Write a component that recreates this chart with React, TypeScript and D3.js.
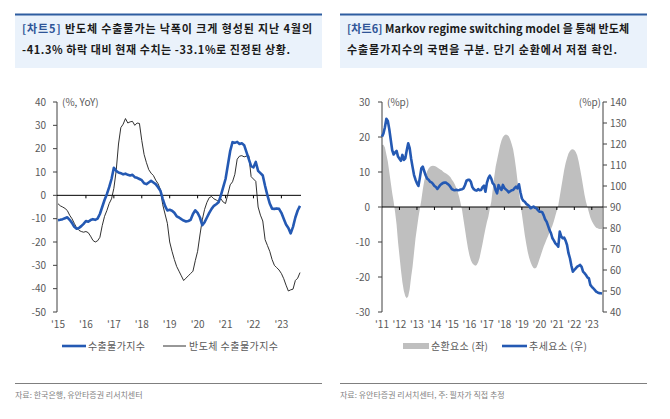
import React from "react";
import * as d3 from "d3";

// ---------- Left chart data (monthly, Jan 2015 .. Sep 2023) ----------
const leftYearLabels = ["'15", "'16", "'17", "'18", "'19", "'20", "'21", "'22", "'23"];
const leftYTicks = [40, 30, 20, 10, 0, -10, -20, -30, -40, -50];
const exportPriceYoY = [
  -10.7, -10.5, -10.2, -9.8, -9.4, -10.5, -11.8, -13.5, -14.3, -14.0, -13.2, -12.2,
  -11.0, -11.3, -10.6, -10.2, -10.5, -10.0, -8.0, -5.0, -2.0, 0.5, 3.5, 7.0,
  11.8, 10.5, 9.8, 9.5, 9.0, 9.3, 8.8, 8.5, 8.8, 7.8, 7.5, 7.0,
  6.5, 5.2, 4.8, 5.5, 6.2, 5.5, 4.8, 3.5, 2.0, -1.5, -4.5, -6.5,
  -6.2, -6.6, -7.5, -9.0, -9.5, -10.2, -10.8, -11.2, -11.0, -10.5, -8.0, -6.4,
  -7.5, -9.5, -12.8, -11.5, -9.5, -7.5, -5.8, -4.5, -3.8, -3.0, 0.0, 3.5,
  7.0, 13.0, 19.0, 22.8, 22.5, 22.9, 22.0, 22.3, 21.5, 18.5, 15.5, 12.5,
  12.0, 14.3, 10.5, 9.5, 8.5, 4.0, 0.0, -3.5, -5.7, -5.8, -5.6, -5.8,
  -7.5, -10.0, -12.5, -14.0, -16.3, -13.5, -9.5, -6.5, -4.5,
];
const semiExportPriceYoY = [
  -3.6, -4.5, -5.0, -5.6, -6.5, -8.5, -10.0, -12.0, -14.0, -15.0, -15.5, -15.8,
  -15.5, -16.0, -17.5, -19.3, -20.0, -19.5, -18.0, -13.0, -9.0, -6.5, -3.5, -1.5,
  3.0, 10.5, 22.0, 29.0, 30.5, 32.9, 31.0, 31.5, 31.7, 30.0, 31.0, 30.8,
  23.5, 17.5, 14.0, 11.0, 9.5, 8.5, 6.5, 5.0, 2.5, -4.0, -8.0, -12.0,
  -20.0, -24.0, -27.5, -30.5, -32.5, -34.5, -36.5, -35.5, -34.5, -33.5, -32.5, -28.0,
  -24.0, -17.0, -10.5, -6.0, -3.0, -1.0, -0.5, -1.5, -2.0, -2.6, -1.5, -2.9,
  -3.5, 0.5, 4.5, 5.8, 9.0, 15.5, 16.8, 17.0, 16.5, 16.8, 17.0, 8.0,
  7.0, 6.0, -5.0, -8.5, -11.0, -19.0, -21.5, -24.0, -27.5, -30.0, -31.0, -32.0,
  -33.5, -35.7, -38.5, -41.0, -40.5, -40.2, -36.5, -35.5, -33.1,
];

// ---------- Right chart data (monthly, Jan 2011 .. Aug 2023) ----------
const rightYearLabels = ["'11", "'12", "'13", "'14", "'15", "'16", "'17", "'18", "'19", "'20", "'21", "'22", "'23"];
const rightLeftTicks = [30, 20, 10, 0, -10, -20, -30];
const rightRightTicks = [140, 130, 120, 110, 100, 90, 80, 70, 60, 50, 40];
const cyclical = [
  17.7, 17.8, 17.0, 15.0, 13.0, 10.0, 7.0, 4.0, 1.5, -1.5, -5.0, -10.0,
  -14.0, -18.0, -21.5, -24.0, -25.5, -26.1, -25.5, -23.5, -20.0, -17.0, -13.0, -9.0,
  -6.0, -3.0, -0.5, 2.0, 5.0, 7.5, 9.0, 10.2, 11.0, 11.5, 11.7, 11.8,
  11.7, 11.6, 11.3, 11.0, 10.7, 10.5, 10.1, 9.8, 9.6, 9.3, 8.9, 8.5,
  7.8, 7.2, 6.4, 5.4, 4.3, 2.8, 1.0, -1.0, -3.8, -6.5, -9.3, -11.8,
  -13.8, -15.2, -16.1, -16.5, -16.8, -16.6, -15.8, -14.5, -12.5, -10.5, -8.3, -6.2,
  -4.3, -2.8, -0.5, 1.5, 5.0, 8.5, 11.5, 13.5, 15.5, 17.5, 19.0, 20.0,
  20.5, 20.7, 20.6, 20.2, 19.3, 18.0, 16.5, 14.0, 11.0, 7.5, 4.0, 1.0,
  -2.0, -5.0, -8.0, -10.5, -12.8, -14.5, -15.8, -16.8, -17.4, -17.6, -17.3, -16.3,
  -15.0, -13.8, -12.5, -11.3, -10.3, -9.2, -8.3, -7.3, -6.3, -5.3, -4.0, -2.5,
  -1.0, 0.5, 3.0, 5.5, 8.0, 10.5, 12.5, 14.0, 15.3, 16.0, 16.4, 16.5,
  16.3, 15.7, 14.7, 13.0, 10.8, 8.5, 6.0, 3.5, 1.5, 0.0, -1.5, -3.0,
  -4.0, -4.8, -5.4, -5.9, -6.1, -6.3, -6.3, -6.3,
];
const trend = [
  123.5, 125.0, 128.0, 132.0, 131.0, 127.0, 122.0, 117.0, 115.0, 116.0, 116.7, 114.0,
  113.0, 112.0, 114.8, 112.4, 113.2, 117.0, 120.3, 118.0, 113.0, 109.0, 105.2, 103.0,
  101.3, 100.0, 104.0, 108.4, 109.2, 107.0, 105.0, 103.5, 103.0, 102.0, 101.7, 101.0,
  100.0, 99.5, 98.6, 99.5, 100.5, 101.0, 101.5, 101.6, 101.6, 101.0, 100.5, 99.5,
  98.5, 98.1, 98.0, 98.2, 98.0, 98.1, 98.3, 98.5, 98.9, 100.5, 102.5, 102.9,
  102.9, 102.0, 99.5, 98.5, 98.0, 97.8, 98.5, 98.0, 98.1, 99.5, 100.2, 97.3,
  101.5, 103.7, 104.9, 103.5, 101.3, 100.5, 98.0, 96.5, 100.5, 99.0, 98.1, 100.5,
  99.0, 98.4, 97.8, 97.0, 97.5, 98.0, 98.1, 99.0, 99.7, 98.9, 100.8, 97.0,
  94.1, 93.0, 92.5, 91.5, 91.0, 90.5, 89.4, 89.8, 90.2, 89.6, 89.4, 88.5,
  87.8, 87.7, 87.5, 86.0, 84.0, 83.0, 81.0, 79.0, 77.5, 75.1, 74.0, 72.7,
  72.0, 71.1, 78.3, 76.0, 75.1, 75.4, 74.0, 71.9, 68.0, 65.6, 62.0, 59.2,
  60.0, 60.8, 61.6, 62.0, 62.4, 61.5, 59.2, 58.5, 57.6, 56.5, 56.0, 52.9,
  52.0, 51.3, 50.5, 49.7, 49.3, 49.0, 48.9, 48.8,
];

const BLUE = "#2459b3";
const TITLE_BLUE = "#2f5597";
const GREY_TXT = "#595959";
const AXIS = "#404040";
const FONT = "'Noto Sans CJK KR', 'Noto Sans', sans-serif";

function TitleBox({ x, w, label, line1, line2, l1w, l2w }: any) {
  return (
    <g>
      <rect x={x} y={14} width={w} height={54} fill="#eaf2fb" />
      <line x1={x} x2={x + w} y1={14.5} y2={14.5} stroke="#2e5da0" strokeWidth={2.2} />
      <text x={x + 7} y={33} fontSize={11} fontWeight="bold" fontFamily={FONT} fill="#1a1a1a" textLength={l1w} lengthAdjust="spacing">
        <tspan fill={TITLE_BLUE}>{label}</tspan>
        <tspan> {line1}</tspan>
      </text>
      <text x={x + 7} y={54} fontSize={11} fontWeight="bold" fontFamily={FONT} fill="#1a1a1a" textLength={l2w} lengthAdjust="spacing">
        {line2}
      </text>
    </g>
  );
}

function LeftChart() {
  const x = d3.scaleLinear().domain([0, exportPriceYoY.length - 1]).range([58, 300]);
  const y = d3.scaleLinear().domain([-50, 40]).range([312, 102]);
  const line = d3.line<number>().x((_, i) => x(i)).y((d) => y(d));
  return (
    <g>
      {/* y axis */}
      <line x1={57} x2={57} y1={102} y2={312} stroke={AXIS} strokeWidth={1} />
      {leftYTicks.map((t) => (
        <g key={t}>
          <line x1={53} x2={57} y1={y(t)} y2={y(t)} stroke={AXIS} />
          <text x={46} y={y(t) + 3.5} textAnchor="end" fontSize={10} fontFamily={FONT} fill={GREY_TXT}>{t}</text>
        </g>
      ))}
      <text x={62} y={106} fontSize={10} fontFamily={FONT} fill={GREY_TXT}>(%, YoY)</text>
      {/* zero line */}
      <line x1={57} x2={301} y1={y(0)} y2={y(0)} stroke="#000" strokeWidth={1} />
      {leftYearLabels.map((l, i) => (
        <g key={l}>
          {i > 0 && <line x1={x(i * 12)} x2={x(i * 12)} y1={y(0)} y2={y(0) + 3} stroke="#000" />}
          <text x={x(i * 12)} y={328} textAnchor="middle" fontSize={10} fontFamily={FONT} fill={GREY_TXT}>{l}</text>
        </g>
      ))}
      <path d={line(semiExportPriceYoY) || ""} fill="none" stroke="#1a1a1a" strokeWidth={0.9} />
      <path d={line(exportPriceYoY) || ""} fill="none" stroke={BLUE} strokeWidth={2.6} strokeLinejoin="round" />
      {/* legend */}
      <line x1={62} x2={86} y1={346} y2={346} stroke={BLUE} strokeWidth={2.6} />
      <text x={88} y={349.5} fontSize={10} fontFamily={FONT} fill={GREY_TXT} textLength={57} lengthAdjust="spacing">수출물가지수</text>
      <line x1={163} x2={186} y1={346} y2={346} stroke="#1a1a1a" strokeWidth={0.9} />
      <text x={189} y={349.5} fontSize={10} fontFamily={FONT} fill={GREY_TXT} textLength={89} lengthAdjust="spacing">반도체 수출물가지수</text>
      {/* footer */}
      <line x1={15} x2={322} y1={383.5} y2={383.5} stroke="#7f7f7f" strokeWidth={1} />
      <text x={15} y={398} fontSize={8} fontFamily={FONT} fill="#7f7f7f">자료: 한국은행, 유안타증권 리서치센터</text>
    </g>
  );
}

function RightChart() {
  const x = d3.scaleLinear().domain([0, cyclical.length - 1]).range([382, 602]);
  const yL = d3.scaleLinear().domain([-30, 30]).range([312, 102]);
  const yR = d3.scaleLinear().domain([40, 140]).range([312, 102]);
  const area = d3.area<number>().x((_, i) => x(i)).y0(yL(0)).y1((d) => yL(d));
  const line = d3.line<number>().x((_, i) => x(i)).y((d) => yR(d));
  return (
    <g>
      <path d={area(cyclical) || ""} fill="#bfbfbf" />
      {/* left axis */}
      <line x1={382} x2={382} y1={102} y2={312} stroke={AXIS} />
      {rightLeftTicks.map((t) => (
        <g key={t}>
          <line x1={378} x2={382} y1={yL(t)} y2={yL(t)} stroke={AXIS} />
          <text x={370} y={yL(t) + 3.5} textAnchor="end" fontSize={10} fontFamily={FONT} fill={GREY_TXT}>{t}</text>
        </g>
      ))}
      <text x={387} y={106} fontSize={10} fontFamily={FONT} fill={GREY_TXT}>(%p)</text>
      {/* right axis */}
      <line x1={603} x2={603} y1={102} y2={312} stroke={AXIS} />
      {rightRightTicks.map((t) => (
        <g key={t}>
          <line x1={603} x2={607} y1={yR(t)} y2={yR(t)} stroke={AXIS} />
          <text x={610} y={yR(t) + 3.5} textAnchor="start" fontSize={10} fontFamily={FONT} fill={GREY_TXT}>{t}</text>
        </g>
      ))}
      <text x={601} y={106} textAnchor="end" fontSize={10} fontFamily={FONT} fill={GREY_TXT}>(%p)</text>
      {/* zero line */}
      <line x1={382} x2={603} y1={yL(0)} y2={yL(0)} stroke="#000" strokeWidth={1} />
      {rightYearLabels.map((l, i) => (
        <g key={l}>
          {i > 0 && <line x1={x(i * 12)} x2={x(i * 12)} y1={yL(0)} y2={yL(0) + 3} stroke="#000" />}
          <text x={x(i * 12)} y={328} textAnchor="middle" fontSize={10} fontFamily={FONT} fill={GREY_TXT}>{l}</text>
        </g>
      ))}
      <path d={line(trend) || ""} fill="none" stroke={BLUE} strokeWidth={2.6} strokeLinejoin="round" />
      {/* legend */}
      <rect x={403} y={343} width={26} height={6} fill="#bfbfbf" />
      <text x={431} y={349.5} fontSize={10} fontFamily={FONT} fill={GREY_TXT} textLength={57} lengthAdjust="spacing">순환요소 (좌)</text>
      <line x1={502} x2={527} y1={346} y2={346} stroke={BLUE} strokeWidth={2.6} />
      <text x={529} y={349.5} fontSize={10} fontFamily={FONT} fill={GREY_TXT} textLength={58} lengthAdjust="spacing">추세요소 (우)</text>
      {/* footer */}
      <line x1={340} x2={647} y1={383.5} y2={383.5} stroke="#7f7f7f" strokeWidth={1} />
      <text x={340} y={398} fontSize={8} fontFamily={FONT} fill="#7f7f7f">자료: 유안타증권 리서치센터, 주: 필자가 직접 추정</text>
    </g>
  );
}

export default function App() {
  return (
    <div style={{ position: "absolute", left: 0, top: 0, width: 670, height: 419, background: "#fff" }}>
      <svg width={670} height={419} viewBox="0 0 670 419">
        <rect width={670} height={419} fill="#fff" />
        <TitleBox x={15} w={307} label="[차트5]" line1="반도체 수출물가는 낙폭이 크게 형성된 지난 4월의" line2="-41.3% 하락 대비 현재 수치는 -33.1%로 진정된 상황." l1w={290} l2w={268} />
        <TitleBox x={340} w={307} label="[차트6]" line1="Markov regime switching model 을 통해 반도체" line2="수출물가지수의 국면을 구분. 단기 순환에서 저점 확인." l1w={282} l2w={270} />
        <LeftChart />
        <RightChart />
      </svg>
    </div>
  );
}
